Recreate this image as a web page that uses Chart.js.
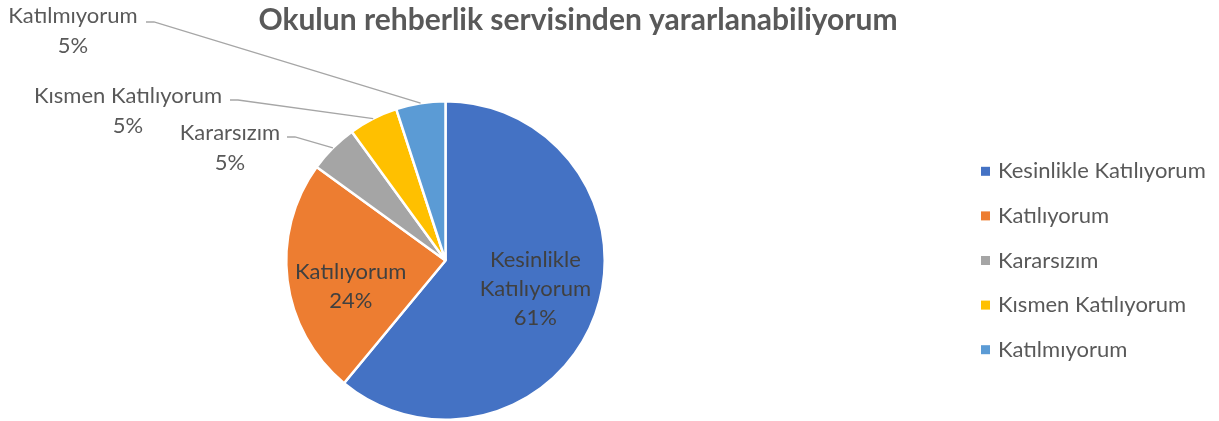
<!DOCTYPE html>
<html>
<head>
<meta charset="utf-8">
<script src="https://cdn.jsdelivr.net/npm/chart.js@4/dist/chart.umd.min.js"></script>
<style>
  body { margin: 0; background: #fff; }
</style>
</head>
<body>
<canvas id="pie" width="1219" height="421"></canvas>
<script>
// Datos
const categorias = ['Kesinlikle Katılıyorum', 'Katılıyorum', 'Kararsızım', 'Kısmen Katılıyorum', 'Katılmıyorum'];
const porcentajes = [61, 24, 5, 5, 5];
const colores = ['#4472C4', '#ED7D31', '#A5A5A5', '#FFC000', '#5B9BD5'];
const titulo = 'Okulun rehberlik servisinden yararlanabiliyorum';

const fuente = 'Lato, "Open Sans", sans-serif';

// etiquetas de las porciones + leyenda + titulo
const etiquetasPlugin = {
    id: 'etiquetas',
    afterDatasetsDraw(chart) {
        const ctx = chart.ctx;
        const arcs = chart.getDatasetMeta(0).data;
        ctx.save();
        ctx.textAlign = 'center';
        ctx.textBaseline = 'middle';
        ctx.font = '22px ' + fuente;

        // dentro de la porcion
        const dentro = { 0: { r: 0.6, dy: -4 }, 1: { r: 0.6, dy: 14 } };
        // fuera, con linea guia
        const fuera = {
            2: { x: 230, y: 133, lx: 287, ly: 137 },
            3: { x: 128, y: 96, lx: 230, ly: 100 },
            4: { x: 73, y: 16, lx: 146, ly: 22 }
        };

        arcs.forEach((arc, i) => {
            const p = arc.getProps(['x', 'y', 'startAngle', 'endAngle', 'outerRadius']);
            const mid = (p.startAngle + p.endAngle) / 2;
            const pct = porcentajes[i] + '%';
            if (dentro[i]) {
                const r = p.outerRadius * dentro[i].r;
                const cx = p.x + Math.cos(mid) * r;
                const cy = p.y + Math.sin(mid) * r + dentro[i].dy;
                const lineas = categorias[i] === 'Kesinlikle Katılıyorum'
                    ? ['Kesinlikle', 'Katılıyorum', pct]
                    : [categorias[i], pct];
                ctx.fillStyle = '#404040';
                lineas.forEach((t, k) => {
                    ctx.fillText(t, cx, cy + (k - (lineas.length - 1) / 2) * 29);
                });
            } else if (fuera[i]) {
                const f = fuera[i];
                const ax = p.x + Math.cos(mid) * p.outerRadius;
                const ay = p.y + Math.sin(mid) * p.outerRadius;
                ctx.strokeStyle = '#A6A6A6';
                ctx.lineWidth = 1.3;
                ctx.beginPath();
                ctx.moveTo(f.lx, f.ly);
                ctx.lineTo(f.lx + 8, f.ly);
                ctx.lineTo(ax, ay);
                ctx.stroke();
                ctx.fillStyle = '#595959';
                ctx.fillText(categorias[i], f.x, f.y);
                ctx.fillText(pct, f.x, f.y + 30);
            }
        });
        ctx.restore();
    },
    afterDraw(chart) {
        const ctx = chart.ctx;
        const area = chart.chartArea;
        const cy = (area.top + area.bottom) / 2;
        ctx.save();
        // titulo
        ctx.fillStyle = '#595959';
        ctx.font = 'bold 30px ' + fuente;
        ctx.textAlign = 'center';
        ctx.textBaseline = 'middle';
        ctx.fillText(titulo, 578, 20);
        // leyenda
        ctx.font = '22px ' + fuente;
        ctx.textAlign = 'left';
        categorias.forEach((c, i) => {
            const y = cy + (i - 2) * 44.6;
            ctx.fillStyle = colores[i];
            ctx.fillRect(981, y - 4.5, 9, 9);
            ctx.fillStyle = '#595959';
            ctx.fillText(c, 998, y);
        });
        ctx.restore();
    }
};

const pieChart = new Chart(document.getElementById('pie'), {
    type: 'pie',
    data: {
        labels: categorias,
        datasets: [{
            data: porcentajes,
            backgroundColor: colores,
            borderColor: '#ffffff',
            borderWidth: 2.5
        }]
    },
    options: {
        responsive: false,
        animation: false,
        layout: { padding: { top: 100, bottom: 0, left: 284, right: 1219 - 607 } },
        plugins: {
            legend: { display: false },
            title: { display: false },
            tooltip: { enabled: false }
        }
    },
    plugins: [etiquetasPlugin]
});
</script>
</body>
</html>
